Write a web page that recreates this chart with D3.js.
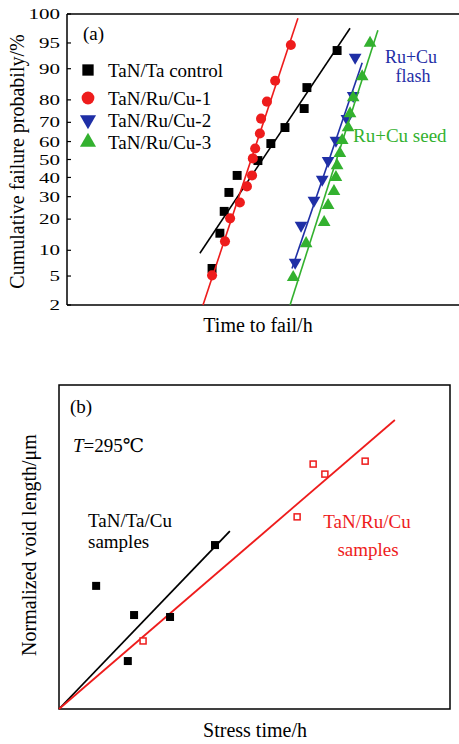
<!DOCTYPE html>
<html lang="en">
<head>
    <meta charset="UTF-8">
    <title>Failure probability and void length</title>
    <style>
        body { margin: 0; background: #fff; }
    </style>
</head>
<body>
    <svg width="459" height="744" font-family="'Liberation Serif', 'Times New Roman', 'DejaVu Serif', serif"></svg>

    <script src="https://cdnjs.cloudflare.com/ajax/libs/d3/7.8.5/d3.min.js"></script>
    <script>
        // ---- panel (a) data: [time (arb. units), cumulative %] ----
        var controlPts = [[68.9,93.8],[61.2,84.5],[60.5,76.4],[55.6,67.4],[52.0,58.9],[48.7,49.4],
                          [43.4,41.1],[41.3,32.1],[40.1,23.2],[39.0,14.9],[37.0,6.2]];
        var ru1Pts = [[57.1,94.7],[53.1,86.7],[51.0,79.3],[49.5,71.8],[49.2,64.3],[48.0,56.2],[47.4,50.6],
                      [47.2,41.1],[45.9,35.2],[44.1,27.2],[41.6,20.3],[40.3,12.4],[37.0,5.1]];
        var ru2Pts = [[73.5,92.5],[73.0,81.6],[71.4,71.8],[68.6,60.6],[66.6,49.4],[65.1,38.9],
                      [63.0,28.2],[59.7,17.6],[58.2,7.3]];
        var ru3Pts = [[77.3,95.0],[75.3,87.9],[73.0,80.9],[72.2,74.1],[71.7,67.4],[70.2,60.6],[69.6,53.4],
                      [68.9,46.6],[68.6,40.0],[68.1,32.6],[66.6,25.9],[65.6,18.8],[61.0,11.8],[57.7,4.8]];
        // fitted lines (end points)
        var controlFit = [[33.9,9.3],[72.2,96.8]];
        var ru1Fit = [[34.7,2.0],[58.9,97.7]];
        var ru2Fit = [[57.4,6.2],[75.3,91.4]];
        var ru3Fit = [[56.9,2.0],[79.3,96.6]];
        var probTicks = [2,5,10,20,30,40,50,60,70,80,90,95,100];
        var legendNames = ["TaN/Ta control","TaN/Ru/Cu-1","TaN/Ru/Cu-2","TaN/Ru/Cu-3"];

        // ---- panel (b) data: [stress time, void length] (arb. units) ----
        var taPts = [[9.5,38.0],[19.2,29.0],[28.4,28.4],[17.6,14.8],[39.9,50.6]];
        var ruPts = [[65.0,75.6],[68.0,72.5],[78.3,76.5],[60.9,59.3],[21.5,21.0]];
        var taFit = [[0,0],[43.7,54.9]];
        var ruFit = [[0,0],[85.9,89.2]];

        var svg = d3.select('svg');

        // inverse normal cdf (Acklam)
        function probit(p) {
            var a = [-39.69683028665376,220.9460984245205,-275.9285104469687,138.3577518672690,-30.66479806614716,2.506628277459239],
                b = [-54.47609879822406,161.5858368580409,-155.6989798598866,66.80131188771972,-13.28068155288572],
                c = [-0.007784894002430293,-0.3223964580411365,-2.400758277161838,-2.549732539343734,4.374664141464968,2.938163982698783],
                d = [0.007784695709041462,0.3224671290700398,2.445134137142996,3.754408661907416];
            var q, r;
            if (p < 0.02425) {
                q = Math.sqrt(-2*Math.log(p));
                return (((((c[0]*q+c[1])*q+c[2])*q+c[3])*q+c[4])*q+c[5]) / ((((d[0]*q+d[1])*q+d[2])*q+d[3])*q+1);
            } else if (p > 1-0.02425) {
                q = Math.sqrt(-2*Math.log(1-p));
                return -(((((c[0]*q+c[1])*q+c[2])*q+c[3])*q+c[4])*q+c[5]) / ((((d[0]*q+d[1])*q+d[2])*q+d[3])*q+1);
            }
            q = p - 0.5; r = q*q;
            return (((((a[0]*r+a[1])*r+a[2])*r+a[3])*r+a[4])*r+a[5])*q / (((((b[0]*r+b[1])*r+b[2])*r+b[3])*r+b[4])*r+1);
        }

        // ================= panel (a) =================
        var ax0 = 67, ax1 = 470, ay0 = 14, ay1 = 305;
        var xA = d3.scaleLinear().domain([0, 102.8]).range([ax0, ax1]);
        var zA = d3.scaleLinear().domain([probit(0.02), probit(0.98)]).range([ay1, ay0]);
        function yA(p) { return zA(probit(Math.min(p, 98) / 100)); }

        var gA = svg.append('g');
        gA.append('line').attr('x1', ax0).attr('x2', 459).attr('y1', ay0).attr('y2', ay0)
            .attr('stroke', '#000').attr('stroke-width', 1.5);
        gA.append('line').attr('x1', ax0).attr('x2', 459).attr('y1', ay1).attr('y2', ay1)
            .attr('stroke', '#000').attr('stroke-width', 1.5);
        gA.append('line').attr('x1', ax0).attr('x2', ax0).attr('y1', ay0).attr('y2', ay1)
            .attr('stroke', '#000').attr('stroke-width', 1.5);

        // tick labels: short and wide, like the original
        probTicks.forEach(function(t) {
            var y = yA(t);
            gA.append('line').attr('x1', ax0).attr('x2', ax0 + 4).attr('y1', y).attr('y2', y)
                .attr('stroke', '#000').attr('stroke-width', 1.2);
            gA.append('text').attr('transform', 'translate(60,' + y + ') scale(1.4,1)')
                .attr('dy', '0.34em')
                .attr('text-anchor', 'end').attr('font-size', 15).text(t);
        });

        gA.append('text').attr('transform', 'translate(24,' + ((ay0 + ay1) / 2 + 2) + ') rotate(-90)')
            .attr('text-anchor', 'middle').attr('font-size', 20).text('Cumulative failure probabily/%');
        gA.append('text').attr('x', 258).attr('y', 332).attr('text-anchor', 'middle')
            .attr('font-size', 20).text('Time to fail/h');
        gA.append('text').attr('x', 83).attr('y', 40).attr('font-size', 19).text('(a)');

        var lineA = d3.line().x(function(d) { return xA(d[0]); }).y(function(d) { return yA(d[1]); });

        var seriesA = [
            { pts: controlPts, fit: controlFit, color: '#000', shape: d3.symbolSquare, size: 80, rot: 0 },
            { pts: ru1Pts, fit: ru1Fit, color: '#ee1c1c', shape: d3.symbolCircle, size: 80, rot: 0 },
            { pts: ru2Pts, fit: ru2Fit, color: '#1f2fa6', shape: d3.symbolTriangle, size: 70, rot: 180 },
            { pts: ru3Pts, fit: ru3Fit, color: '#33b12f', shape: d3.symbolTriangle, size: 70, rot: 0 }
        ];

        seriesA.forEach(function(s) {
            gA.append('path').datum(s.fit).attr('d', lineA)
                .attr('fill', 'none').attr('stroke', s.color).attr('stroke-width', 1.6);
            gA.selectAll(null).data(s.pts).enter().append('path')
                .attr('d', d3.symbol().type(s.shape).size(s.size))
                .attr('transform', function(d) {
                    return 'translate(' + xA(d[0]) + ',' + yA(d[1]) + ') rotate(' + s.rot + ')';
                })
                .attr('fill', s.color);
        });

        // legend
        var legY = [70, 98, 120, 142];
        seriesA.forEach(function(s, i) {
            gA.append('path')
                .attr('d', d3.symbol().type(s.shape).size(s.size * 1.6))
                .attr('transform', 'translate(88,' + legY[i] + ') rotate(' + s.rot + ')')
                .attr('fill', s.color);
            gA.append('text').attr('x', 108).attr('y', legY[i]).attr('dy', '0.35em')
                .attr('font-size', 19).text(legendNames[i]);
        });

        gA.append('text').attr('x', 411).attr('y', 63).attr('text-anchor', 'middle')
            .attr('font-size', 18).attr('fill', '#1f2fa6').text('Ru+Cu');
        gA.append('text').attr('x', 413).attr('y', 82).attr('text-anchor', 'middle')
            .attr('font-size', 18).attr('fill', '#1f2fa6').text('flash');
        gA.append('text').attr('x', 353).attr('y', 142)
            .attr('font-size', 19).attr('fill', '#33b12f').text('Ru+Cu seed');

        // ================= panel (b) =================
        var bx0 = 59, bx1 = 450, by0 = 385, by1 = 709;
        var xB = d3.scaleLinear().domain([0, 100]).range([bx0, bx1]);
        var yB = d3.scaleLinear().domain([0, 100]).range([by1, by0]);
        var gB = svg.append('g');

        gB.append('rect').attr('x', bx0).attr('y', by0).attr('width', bx1 - bx0).attr('height', by1 - by0)
            .attr('fill', 'none').attr('stroke', '#000').attr('stroke-width', 1.5);

        var lineB = d3.line().x(function(d) { return xB(d[0]); }).y(function(d) { return yB(d[1]); });
        gB.append('path').datum(taFit).attr('d', lineB)
            .attr('fill', 'none').attr('stroke', '#000').attr('stroke-width', 1.8);
        gB.append('path').datum(ruFit).attr('d', lineB)
            .attr('fill', 'none').attr('stroke', '#ee1c1c').attr('stroke-width', 1.8);

        gB.selectAll(null).data(taPts).enter().append('rect')
            .attr('x', function(d) { return xB(d[0]) - 4; })
            .attr('y', function(d) { return yB(d[1]) - 4; })
            .attr('width', 8).attr('height', 8).attr('fill', '#000');
        gB.selectAll(null).data(ruPts).enter().append('rect')
            .attr('x', function(d) { return xB(d[0]) - 3; })
            .attr('y', function(d) { return yB(d[1]) - 3; })
            .attr('width', 6).attr('height', 6).attr('fill', '#fff')
            .attr('stroke', '#ee1c1c').attr('stroke-width', 1.5);

        gB.append('text').attr('x', 70).attr('y', 413).attr('font-size', 19).text('(b)');
        var tLabel = gB.append('text').attr('x', 73).attr('y', 452).attr('font-size', 19);
        tLabel.append('tspan').attr('font-style', 'italic').text('T');
        tLabel.append('tspan').text('=295\u2103');

        gB.append('text').attr('x', 88).attr('y', 527).attr('font-size', 19).text('TaN/Ta/Cu');
        gB.append('text').attr('x', 88).attr('y', 548).attr('font-size', 19).text('samples');
        gB.append('text').attr('x', 367).attr('y', 528).attr('text-anchor', 'middle')
            .attr('font-size', 19).attr('fill', '#ee1c1c').text('TaN/Ru/Cu');
        gB.append('text').attr('x', 368).attr('y', 556).attr('text-anchor', 'middle')
            .attr('font-size', 19).attr('fill', '#ee1c1c').text('samples');

        gB.append('text').attr('transform', 'translate(36,' + 545 + ') rotate(-90)')
            .attr('text-anchor', 'middle').attr('font-size', 20).text('Normalized void length/\u03bcm');
        gB.append('text').attr('x', 255).attr('y', 737).attr('text-anchor', 'middle')
            .attr('font-size', 20).text('Stress time/h');
    </script>
</body>
</html>
